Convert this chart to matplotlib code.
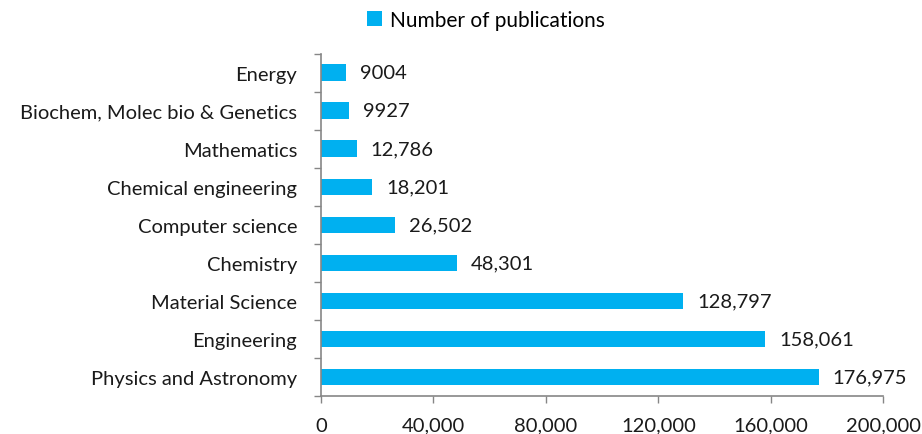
import matplotlib
matplotlib.use("Agg")
import matplotlib.pyplot as plt
from matplotlib.ticker import FixedLocator, FuncFormatter

categories = ["Physics and Astronomy", "Engineering", "Material Science", "Chemistry",
              "Computer science", "Chemical engineering", "Mathematics",
              "Biochem, Molec bio & Genetics", "Energy"]
values = [176975, 158061, 128797, 48301, 26502, 18201, 12786, 9927, 9004]
value_labels = ["176,975", "158,061", "128,797", "48,301", "26,502", "18,201", "12,786", "9927", "9004"]
xticks = [0, 40000, 80000, 120000, 160000, 200000]
series_name = "Number of publications"

plt.rcParams['font.family'] = ['Lato', 'DejaVu Sans']
color = "#00B0F0"
gray = "#868686"
fs = 14.5

fig = plt.figure(figsize=(9.22, 4.35), dpi=100)
ax = fig.add_axes([0.348, 0.0874, 0.61, 0.7866])
ypos = list(range(len(categories)))
bars = ax.barh(ypos, values, height=0.44, color=color, label=series_name)
ax.set_ylim(-0.5, len(categories) - 0.5)
ax.set_xlim(0, 200000)
ax.set_yticks(ypos)
ax.set_yticklabels(categories, fontsize=fs, color="#1a1a1a")
ax.tick_params(axis='y', length=0, pad=17)
ax.yaxis.set_minor_locator(FixedLocator([i - 0.5 for i in range(len(categories) + 1)]))
ax.tick_params(axis='y', which='minor', length=5, color=gray, width=1)
ax.set_xticks(xticks)
ax.xaxis.set_major_formatter(FuncFormatter(lambda v, p: f"{int(v):,}"))
ax.tick_params(axis='x', length=5, color=gray, width=1, labelsize=fs, labelcolor="#1a1a1a", pad=10)
for s in ["top", "right"]:
    ax.spines[s].set_visible(False)
for s in ["left", "bottom"]:
    ax.spines[s].set_color(gray)
    ax.spines[s].set_linewidth(1.2)
for y, v, lab in zip(ypos, values, value_labels):
    ax.annotate(lab, (v, y), xytext=(10, 0), textcoords="offset points",
                va="center", ha="left", fontsize=fs, color="#1a1a1a")
fig.legend(handles=[bars], labels=[series_name], loc="center", bbox_to_anchor=(0.527, 0.952),
           frameon=False, fontsize=15, handlelength=0.7, handleheight=0.7, handletextpad=0.4)
fig.savefig("out.png", dpi=100)
